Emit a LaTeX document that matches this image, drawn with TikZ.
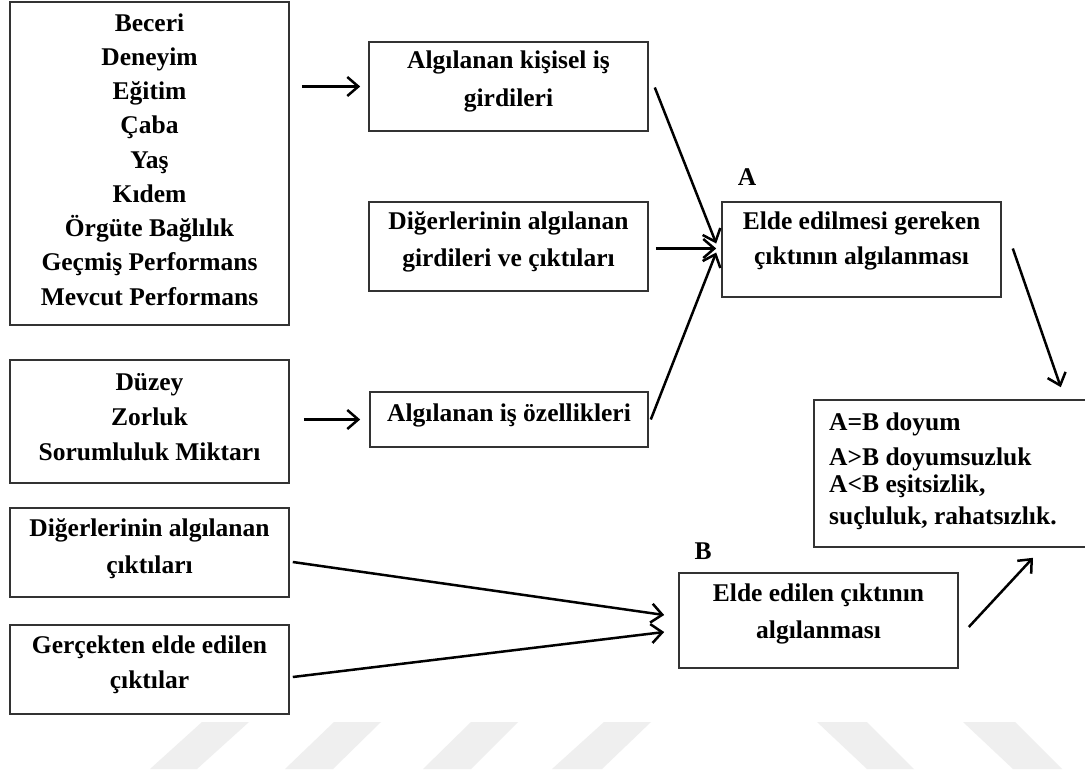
\documentclass[tikz,border=0pt]{standalone}
\usepackage{fontspec}
\setmainfont{Liberation Serif}
\usetikzlibrary{arrows.meta,calc}
\begin{document}
\begin{tikzpicture}[x=1pt,y=-1pt,
  box/.style={draw=black!80, line width=1.6pt, inner sep=0pt},
  txt/.style={font=\bfseries\fontsize{25.5}{34.25}\selectfont, align=center, inner sep=0pt},
  txtA/.style={txt, font=\bfseries\fontsize{25.5}{38}\selectfont},
  txtB/.style={txt, font=\bfseries\fontsize{25.5}{37}\selectfont},
  txtC/.style={txt, font=\bfseries\fontsize{25.5}{35}\selectfont},
  arr/.style={line width=2.5pt, -{Straight Barb[length=11pt,width=19pt]}},
  wm/.style={fill={rgb,255:red,239;green,239;blue,239}, draw=none}]
\useasboundingbox (0,0) rectangle (1085,774);
\fill[white] (0,0) rectangle (1085,774);
% watermark
\fill[wm] (150,769) -- (197,769) -- (249,722) -- (202,722) -- cycle;
\fill[wm] (285,769) -- (333,769) -- (381,722) -- (334,722) -- cycle;
\fill[wm] (423,769) -- (471,769) -- (518,722) -- (471,722) -- cycle;
\fill[wm] (552,769) -- (602,769) -- (651,722) -- (604,722) -- cycle;
\fill[wm] (817,722) -- (867,722) -- (914,769) -- (867,769) -- cycle;
\fill[wm] (963,722) -- (1015,722) -- (1062,769) -- (1013,769) -- cycle;
% boxes
\node[box, minimum width=279pt, minimum height=323pt] (sk) at (149.5,163.5) {};
\node[box, minimum width=279pt, minimum height=89pt] (kis) at (508.5,86.5) {};
\node[box, minimum width=279pt, minimum height=89pt] (dg) at (508.5,246.5) {};
\node[box, minimum width=279pt, minimum height=95pt] (elde) at (861.5,249.5) {};
\node[box, minimum width=279pt, minimum height=123pt] (dz) at (149.5,421.5) {};
\node[box, minimum width=278pt, minimum height=55pt] (isz) at (509,419.5) {};
\node[box, minimum width=274pt, minimum height=147pt] (res) at (951,473.5) {};
\node[box, minimum width=279pt, minimum height=89pt] (dc) at (149.5,552.5) {};
\node[box, minimum width=279pt, minimum height=89pt] (gc) at (149.5,669.5) {};
\node[box, minimum width=279pt, minimum height=95pt] (bb) at (818.5,620.5) {};
% texts
\node[txt] (skt) at (149.5,159.5) {Beceri\\Deneyim\\Eğitim\\Çaba\\Yaş\\Kıdem\\Örgüte Bağlılık\\Geçmiş Performans\\Mevcut Performans};
\node[txtA] (kist) at (508.5,81.5) {Algılanan kişisel iş\\girdileri};
\node[txtB] (dgt) at (508.5,242) {Diğerlerinin algılanan\\girdileri ve çıktıları};
\node[txtC] (eldet) at (861.5,241) {Elde edilmesi gereken\\çıktının algılanması};
\node[txtC] (dzt) at (149.5,417.5) {Düzey\\Zorluk\\Sorumluluk Miktarı};
\node[txt] (iszt) at (509,415.5) {Algılanan iş özellikleri};
\node[txtB] (dct) at (149.5,549) {Diğerlerinin algılanan\\çıktıları};
\node[txtC] (gct) at (149.5,665) {Gerçekten elde edilen\\çıktılar};
\node[txtB] (bbt) at (818.5,614) {Elde edilen çıktının\\algılanması};
\node[txt, align=left, anchor=west, font=\bfseries\fontsize{25.5}{30}\selectfont] (rest) at (829,471.5) {A=B doyum\\[5pt]A>B doyumsuzluk\\[-3pt]A<B eşitsizlik,\\[2pt]suçluluk, rahatsızlık.};
\node[txt] (la) at (747,177) {A};
\node[txt] (lb) at (703,551) {B};
% arrows
\draw[arr] ($(sk.east |- kis.west)+(12,0)$) -- ($(kis.west)+(-8,0)$);
\draw[arr] ($(kis.east)+(6,1)$) -- ($(elde.west)+(-5,-6)$);
\draw[arr] ($(dg.east |- elde.west)+(7,-1)$) -- ($(elde.west)+(-5,-1)$);
\draw[arr] ($(isz.east)+(2,0)$) -- ($(elde.west)+(-5,3)$);
\draw[arr] ($(elde.east)+(11,-1)$) -- ($(res.north east)+(-28,-12)$);
\draw[arr] ($(dz.east |- isz.west)+(14,0)$) -- ($(isz.west)+(-9,0)$);
\draw[arr] ($(dc.east)+(3,9.5)$) -- ($(bb.west)+(-14,-5.5)$);
\draw[arr] ($(gc.east)+(3,7.5)$) -- ($(bb.west)+(-14,11.5)$);
\draw[arr] ($(bb.east)+(10,6.5)$) -- ($(res.south)+(82,10)$);
\end{tikzpicture}
\end{document}
